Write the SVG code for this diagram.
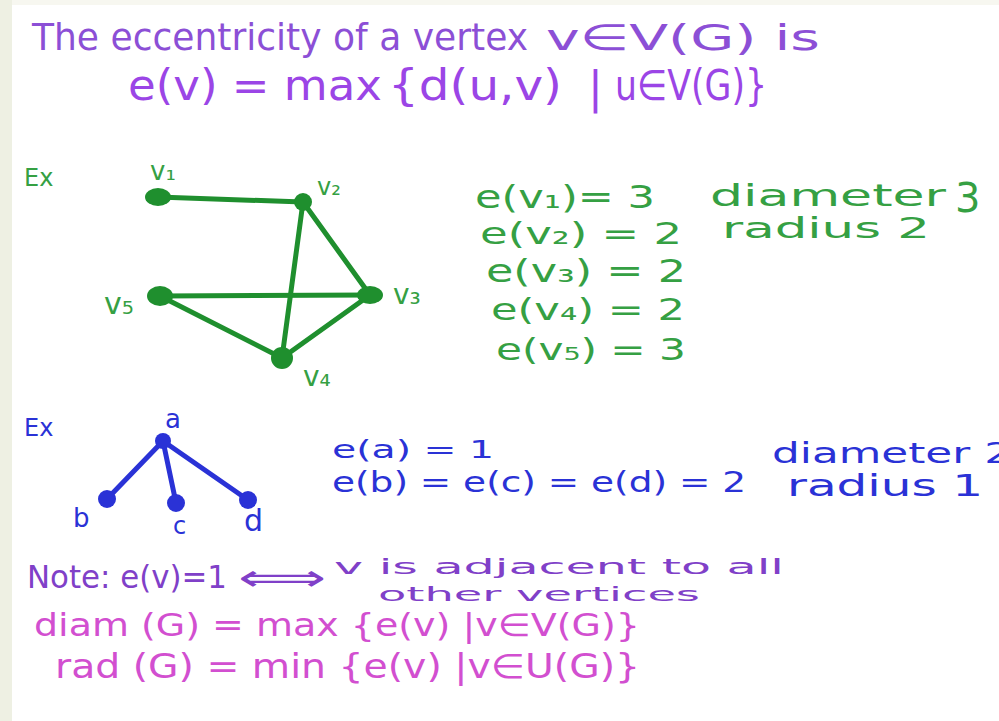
<svg xmlns="http://www.w3.org/2000/svg" width="999" height="721" viewBox="0 0 999 721">
<style>
text{font-family:"DejaVu Sans","Liberation Sans",sans-serif;}
.pur{fill:#8c4fd6;}
.pur2{fill:#9b45e6;}
.grn{fill:#35a043;}
.blu{fill:#2a32d6;}
.vio{fill:#8040c8;}
.mag{fill:#d24fd0;}
.ge{stroke:#1f8f2e;stroke-width:5;stroke-linecap:round;fill:none;}
.gn{fill:#1f8f2e;}
.be{stroke:#2a32d6;stroke-width:5;stroke-linecap:round;fill:none;}
.bn{fill:#2a32d6;}
</style>
<rect x="0" y="0" width="999" height="721" fill="#ffffff"/>
<rect x="0" y="0" width="999" height="5" fill="#f7f7f0"/>
<rect x="0" y="0" width="12" height="721" fill="#eef0e3"/>

<g id="title">
<text x="32" y="50" font-size="38" class="pur" textLength="496" lengthAdjust="spacingAndGlyphs">The eccentricity of a vertex</text>
<text x="546" y="50" font-size="36" class="pur" textLength="274" lengthAdjust="spacingAndGlyphs">v∈V(G) is</text>
<text x="128" y="100" font-size="42" class="pur2" textLength="254" lengthAdjust="spacingAndGlyphs">e(v) = max</text>
<text x="388" y="100" font-size="42" class="pur2" textLength="174" lengthAdjust="spacingAndGlyphs">{d(u,v)</text>
<text x="588" y="103" font-size="44" class="pur2">|</text>
<text x="615" y="100" font-size="42" class="pur2" textLength="152" lengthAdjust="spacingAndGlyphs">u∈V(G)}</text>
</g>

<g id="ex1-label"><text x="24" y="186" font-size="24" class="grn">Ex</text></g>

<g id="connectors">
<line class="ge" x1="158" y1="197" x2="303" y2="202"/>
<line class="ge" x1="303" y1="202" x2="282" y2="358"/>
<line class="ge" x1="303" y1="202" x2="370" y2="295"/>
<line class="ge" x1="160" y1="296" x2="370" y2="295"/>
<line class="ge" x1="160" y1="296" x2="282" y2="358"/>
<line class="ge" x1="370" y1="295" x2="282" y2="358"/>
<line class="be" x1="163" y1="441" x2="107" y2="499"/>
<line class="be" x1="163" y1="441" x2="176" y2="503"/>
<line class="be" x1="163" y1="441" x2="248" y2="500"/>
</g>

<g id="v1"><ellipse class="gn" cx="158" cy="197" rx="13" ry="9"/><text x="150" y="180" font-size="26" class="grn">v₁</text></g>
<g id="v2"><circle class="gn" cx="303" cy="202" r="9"/><text x="317" y="195" font-size="24" class="grn">v₂</text></g>
<g id="v3"><ellipse class="gn" cx="370" cy="295" rx="13" ry="9"/><text x="393" y="304" font-size="28" class="grn">v₃</text></g>
<g id="v4"><circle class="gn" cx="282" cy="358" r="11"/><text x="303" y="386" font-size="28" class="grn">v₄</text></g>
<g id="v5"><ellipse class="gn" cx="160" cy="296" rx="13" ry="10"/><text x="104" y="314" font-size="30" class="grn">v₅</text></g>

<g id="ecc-green">
<text x="475" y="208" font-size="32" class="grn" textLength="180" lengthAdjust="spacingAndGlyphs">e(v₁)= 3</text>
<text x="480" y="244" font-size="30" class="grn" textLength="202" lengthAdjust="spacingAndGlyphs">e(v₂) = 2</text>
<text x="486" y="282" font-size="32" class="grn" textLength="200" lengthAdjust="spacingAndGlyphs">e(v₃) = 2</text>
<text x="491" y="320" font-size="30" class="grn" textLength="194" lengthAdjust="spacingAndGlyphs">e(v₄) = 2</text>
<text x="496" y="360" font-size="30" class="grn" textLength="190" lengthAdjust="spacingAndGlyphs">e(v₅) = 3</text>
<text x="710" y="206" font-size="30" class="grn" textLength="236" lengthAdjust="spacingAndGlyphs">diameter</text>
<text x="955" y="212" font-size="40" class="grn">3</text>
<text x="722" y="238" font-size="28" class="grn" textLength="208" lengthAdjust="spacingAndGlyphs">radius 2</text>
</g>

<g id="ex2-label"><text x="24" y="436" font-size="24" class="blu">Ex</text></g>

<g id="a"><circle class="bn" cx="163" cy="441" r="8"/><text x="165" y="428" font-size="26" class="blu">a</text></g>
<g id="b"><circle class="bn" cx="107" cy="499" r="9"/><text x="73" y="527" font-size="26" class="blu">b</text></g>
<g id="c"><circle class="bn" cx="176" cy="503" r="9"/><text x="173" y="534" font-size="24" class="blu">c</text></g>
<g id="d"><circle class="bn" cx="248" cy="500" r="9"/><text x="244" y="531" font-size="30" class="blu">d</text></g>

<g id="ecc-blue">
<text x="332" y="458" font-size="24" class="blu" textLength="162" lengthAdjust="spacingAndGlyphs">e(a) = 1</text>
<text x="332" y="492" font-size="28" class="blu" textLength="414" lengthAdjust="spacingAndGlyphs">e(b) = e(c) = e(d) = 2</text>
<text x="772" y="463" font-size="28" class="blu" textLength="240" lengthAdjust="spacingAndGlyphs">diameter 2</text>
<text x="787" y="496" font-size="30" class="blu" textLength="196" lengthAdjust="spacingAndGlyphs">radius 1</text>
</g>

<g id="notes">
<text x="27" y="588" font-size="32" class="vio" textLength="200" lengthAdjust="spacingAndGlyphs">Note: e(v)=1</text>
<text x="238" y="590" font-size="36" class="vio" textLength="88" lengthAdjust="spacingAndGlyphs">⟺</text>
<text x="334" y="574" font-size="22" class="vio" textLength="450" lengthAdjust="spacingAndGlyphs">v is adjacent to all</text>
<text x="378" y="601" font-size="20" class="vio" textLength="322" lengthAdjust="spacingAndGlyphs">other vertices</text>
<text x="34" y="636" font-size="32" class="mag" textLength="606" lengthAdjust="spacingAndGlyphs">diam (G) = max {e(v) |v∈V(G)}</text>
<text x="55" y="678" font-size="34" class="mag" textLength="585" lengthAdjust="spacingAndGlyphs">rad (G) = min {e(v) |v∈U(G)}</text>
</g>
</svg>
